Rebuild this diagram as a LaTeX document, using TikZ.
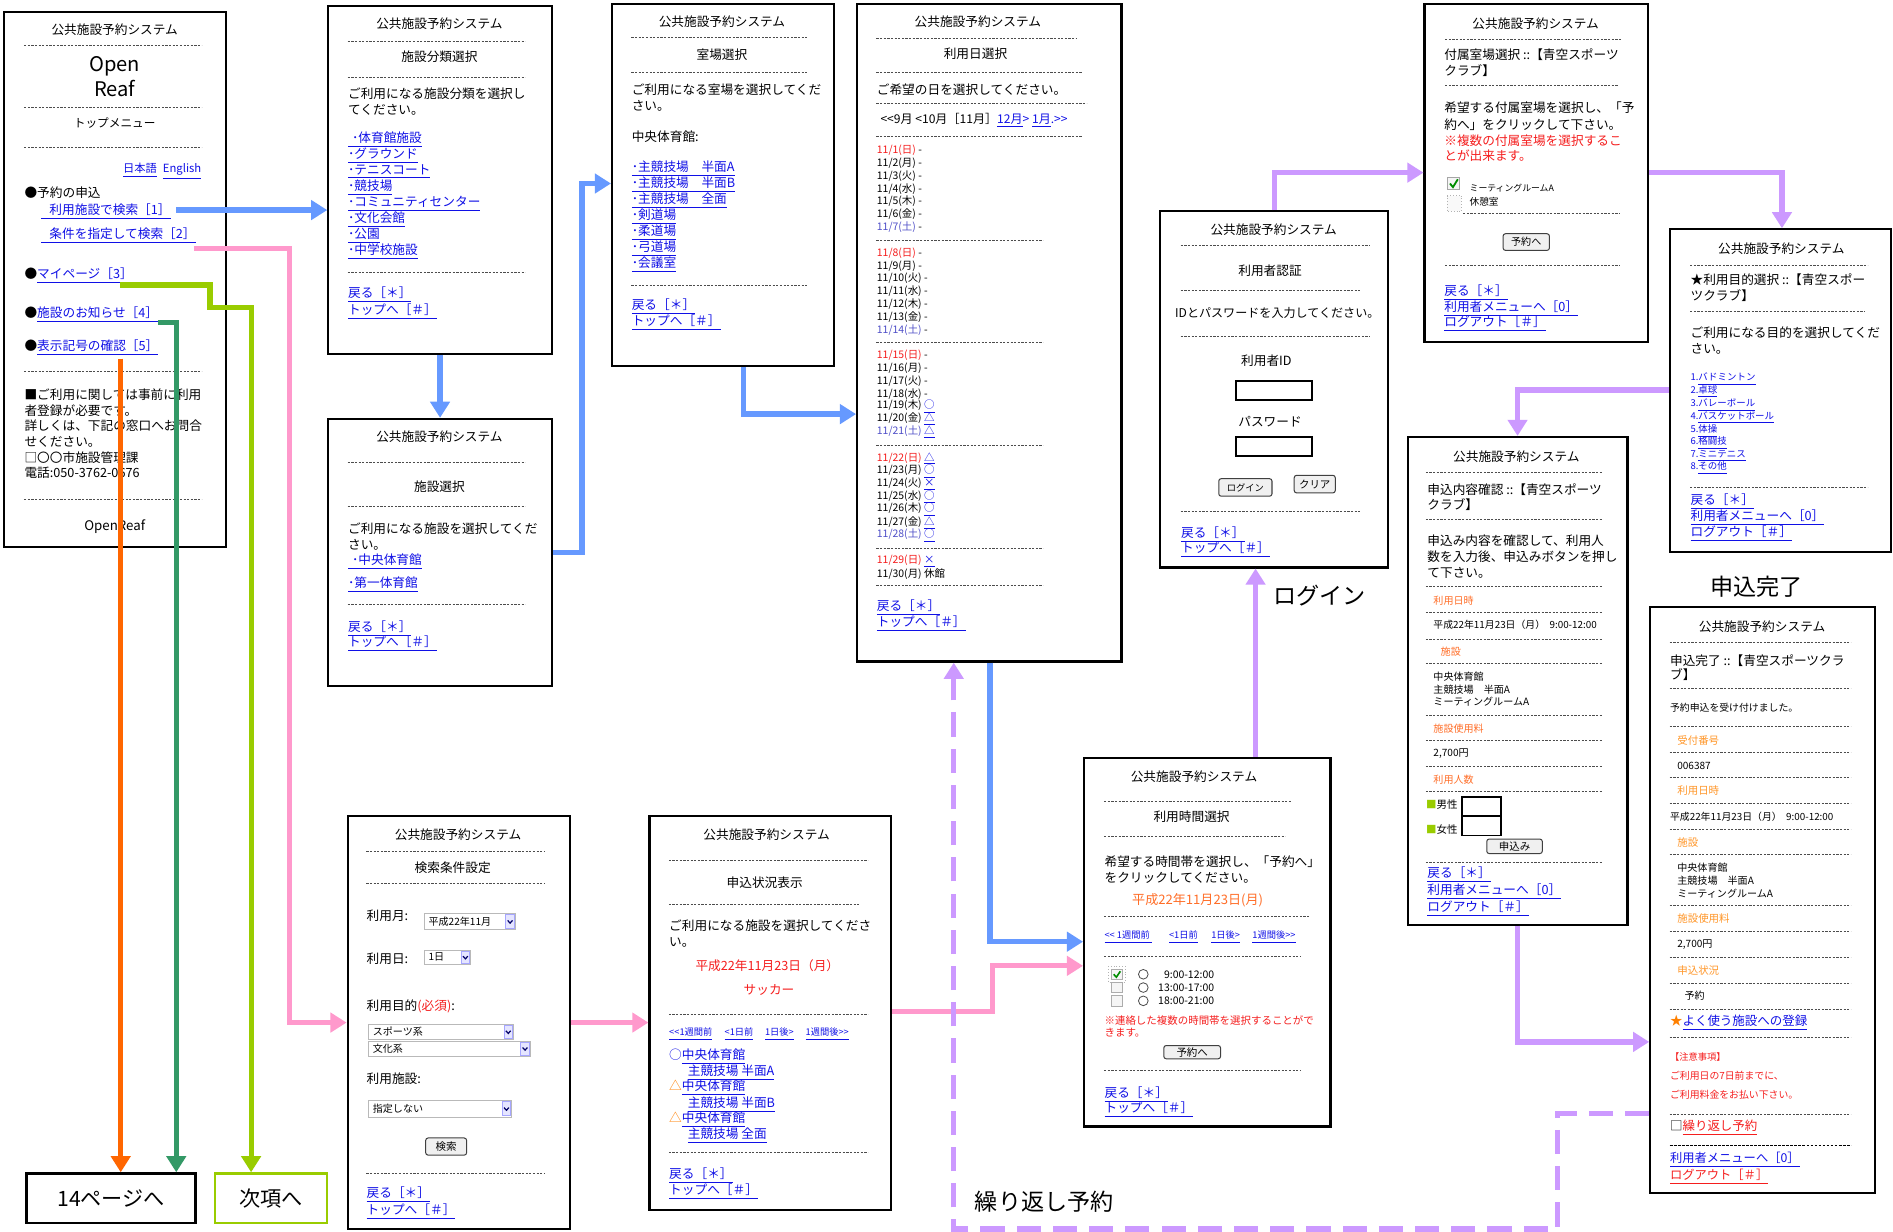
\documentclass[tikz,border=0pt]{standalone}
\usepackage{fontspec}
\setmainfont{Noto Sans CJK JP}
\usetikzlibrary{arrows.meta,fit}
\definecolor{lb}{RGB}{16,16,230}
\definecolor{dred}{RGB}{245,30,30}
\definecolor{orng}{RGB}{255,110,40}
\definecolor{lorng}{RGB}{255,150,40}
\definecolor{sat}{RGB}{80,80,200}
\definecolor{ablue}{RGB}{102,153,255}
\definecolor{apink}{RGB}{255,153,204}
\definecolor{agreen}{RGB}{153,204,0}
\definecolor{adgreen}{RGB}{51,153,102}
\definecolor{aorange}{RGB}{255,102,0}
\definecolor{apurple}{RGB}{204,153,255}
\newcommand\FS[1]{\fontsize{#1}{#1}\selectfont}
\newcommand\lk[1]{\textcolor{lb}{\underline{#1}}}
\newcommand\rk[1]{\textcolor{dred}{\underline{#1}}}
\newcommand\LL{<\kern0pt<}
\newcommand\GG{>\kern0pt>}
\newcommand\btnbox[6]{\draw[btnl] (#1,#2) rectangle (#3,#4);
  \node[inner sep=0pt,font=\FS{#6}] at ({(#1+#3)/2},{(#2+#4)/2}) {#5};}
\newcommand\ddbox[5]{\draw[gray!55,fill=white,line width=0.5pt] (#1,#2) rectangle (#3,#4);
  \draw[blue!35,fill=blue!10,line width=0.4pt] ({#3-8},{#2+1}) rectangle ({#3-1},{#4-1});
  \draw[blue!40!black,line width=0.6pt] ({#3-6.5},{(#2+#4)/2-1}) -- ({#3-4.5},{(#2+#4)/2+1.2}) -- ({#3-2.5},{(#2+#4)/2-1});
  \node[t,font=\FS{5}] at ({#1+3},{(#2+#4)/2}) {#5};}
\tikzset{
  x=0.6pt,y=-0.6pt,
  screen/.style={draw=black,line width=1.1pt,fill=white,inner sep=0pt},
  t/.style={anchor=west,inner sep=0pt,font=\FS{6.3}},
  tc/.style={anchor=center,inner sep=0pt,font=\FS{6.3}},
  sepl/.style={line width=0.4pt,gray!60!black,dash pattern=on 1.1pt off 0.7pt},
  btnl/.style={draw=gray!50!black,fill=gray!12,rounded corners=1.2pt,line width=0.5pt},
  inbox/.style={draw=black,line width=0.9pt,fill=white},
  arr/.style={line width=2.6pt,-{Triangle[length=8pt,width=9.5pt]}},
  labbox/.style={draw,line width=1.2pt,inner sep=0pt,font=\FS{10.5},minimum height=24.6pt},
  biglab/.style={inner sep=0pt,font=\FS{11.5}}
}
\begin{document}
\begin{tikzpicture}
\fill[white] (0,0) rectangle (1568,1020);
\useasboundingbox (0,0) rectangle (1568,1020);

% ---------- Screen A : top menu
\node[screen,fit={(3,10) (187,453)}] (sA) {};
\node[tc] (aT) at (95,25) {公共施設予約システム};
\draw[sepl] (20,38)--(167,38);
\node[tc,font=\FS{10}] (aO) at (95,55) {Open};
\node[tc,font=\FS{10}] (aR) at (95,73) {Reaf};
\draw[sepl] (20,89)--(167,89);
\node[tc,font=\FS{5.8}] (aM) at (95,102) {トップメニュー};
\draw[sepl] (20,122)--(167,122);
\node[anchor=east,inner sep=0pt,font=\FS{5.6}] (aL) at (167,142) {\lk{日本語}\hspace{3pt}\lk{English}};
\node[t] (a0) at (20,160) {●予約の申込};
\node[t] (a1) at (34,175) {\lk{\hspace{4pt}利用施設で検索［1］}};
\node[t] (a2) at (34,195) {\lk{\hspace{4pt}条件を指定して検索［2］}};
\node[t] (a3) at (20,228) {●\lk{マイページ［3］}};
\node[t] (a4) at (20,261) {●\lk{施設のお知らせ［4］}};
\node[t] (a5) at (20,288) {●\lk{表示記号の確認［5］}};
\draw[sepl] (20,308)--(167,308);
\node[t] (a6) at (20,327) {■ご利用に関しては事前に利用};
\node[t] (a7) at (20,340) {者登録が必要です。};
\node[t] (a8) at (20,353) {詳しくは、下記の窓口へお問合};
\node[t] (a9) at (20,366) {せください。};
\node[t] (a10) at (20,379) {□〇〇市施設管理課};
\node[t] (a11) at (20,392) {電話:050-3762-0676};
\draw[sepl] (20,414)--(167,414);
\node[tc,font=\FS{6.6}] (aF) at (95,436) {OpenReaf};

% ---------- Screen B
\node[screen,fit={(272,5) (457,293)}] (sB) {};
\node[tc] (bT) at (364,20) {公共施設予約システム};
\draw[sepl] (288,34)--(435,34);
\node[tc] (bH) at (364,47) {施設分類選択};
\draw[sepl] (288,64)--(435,64);
\node[t] (b1) at (288,78) {ご利用になる施設分類を選択し};
\node[t] (b2) at (288,91) {てください。};
\node[t] (b3) at (288,115.5) {\lk{\hspace{2pt}･体育館施設}};
\node[t] (b4) at (288,128.8) {\lk{･グラウンド}};
\node[t] (b5) at (288,142.1) {\lk{･テニスコート}};
\node[t] (b6) at (288,155.4) {\lk{･競技場}};
\node[t] (b7) at (288,168.7) {\lk{･コミュニティセンター}};
\node[t] (b8) at (288,182) {\lk{･文化会館}};
\node[t] (b9) at (288,195.3) {\lk{･公園}};
\node[t] (b10) at (288,208.6) {\lk{･中学校施設}};
\draw[sepl] (288,226)--(435,226);
\node[t] (b11) at (288,244.5) {\lk{戻る［＊］}};
\node[t] (b12) at (288,258.3) {\lk{トップへ［＃］}};

% ---------- Screen C
\node[screen,fit={(272,347) (457,568)}] (sC) {};
\node[tc] (cT) at (364,362) {公共施設予約システム};
\draw[sepl] (288,383)--(435,383);
\node[tc] (cH) at (364,403) {施設選択};
\draw[sepl] (288,419.5)--(435,419.5);
\node[t] (c1) at (288,438) {ご利用になる施設を選択してくだ};
\node[t] (c2) at (288,451.5) {さい。};
\node[t] (c3) at (288,465) {\lk{\hspace{2pt}･中央体育館}};
\node[t] (c4) at (288,484.5) {\lk{･第一体育館}};
\draw[sepl] (288,500.5)--(435,500.5);
\node[t] (c5) at (288,520.5) {\lk{戻る［＊］}};
\node[t] (c6) at (288,533) {\lk{トップへ［＃］}};

% ---------- Screen D
\node[screen,fit={(507,3) (691,303)}] (sD) {};
\node[tc] (dT) at (598,18) {公共施設予約システム};
\draw[sepl] (523,31)--(669,31);
\node[tc] (dH) at (598,45) {室場選択};
\draw[sepl] (523,60.3)--(669,60.3);
\node[t] (d1) at (523,74) {ご利用になる室場を選択してくだ};
\node[t] (d2) at (523,87.8) {さい。};
\node[t] (d3) at (523,113) {中央体育館:};
\node[t] (d4) at (523,140) {\lk{･主競技場　半面A}};
\node[t] (d5) at (523,153.2) {\lk{･主競技場　半面B}};
\node[t] (d6) at (523,166.4) {\lk{･主競技場　全面}};
\node[t] (d7) at (523,179.6) {\lk{･剣道場}};
\node[t] (d8) at (523,192.8) {\lk{･柔道場}};
\node[t] (d9) at (523,206) {\lk{･弓道場}};
\node[t] (d10) at (523,219.2) {\lk{･会議室}};
\draw[sepl] (523,236.6)--(669,236.6);
\node[t] (d11) at (523,253.7) {\lk{戻る［＊］}};
\node[t] (d12) at (523,266.9) {\lk{トップへ［＃］}};

% ---------- Screen E : calendar
\node[screen,fit={(710,3) (929,548)}] (sE) {};
\node[tc] (eT) at (810,17.7) {公共施設予約システム};
\draw[sepl] (726,31.9)--(892,31.9);
\node[tc] (eH) at (808,44.2) {利用日選択};
\draw[sepl] (726,60.2)--(896,60.2);
\node[t] (e1) at (726,74.3) {ご希望の日を選択してください。};
\draw[sepl] (726,86)--(900,86);
\node[t,font=\FS{6}] (e2) at (729,99.8) {\LL 9月 <10月［11月］\lk{12月}\textcolor{lb}{>} \lk{1月}\textcolor{lb}{.\GG}};
\draw[sepl] (726,113.3)--(896,113.3);
\foreach \n/\w/\c/\s/\yy in {
 1/日/dred/-/124.6, 2/月/black/-/135.2, 3/火/black/-/145.8, 4/水/black/-/156.4,
 5/木/black/-/167.0, 6/金/black/-/177.6, 7/土/sat/-/188.2,
 8/日/dred/-/209.6, 9/月/black/-/220.2, 10/火/black/-/230.8, 11/水/black/-/241.4,
 12/木/black/-/252.0, 13/金/black/-/262.6, 14/土/sat/-/273.2,
 15/日/dred/-/294.5, 16/月/black/-/305.1, 17/火/black/-/315.7, 18/水/black/-/326.3,
 19/木/black/{\lk{○}}/336.9, 20/金/black/{\lk{△}}/347.5, 21/土/sat/{\lk{△}}/358.1,
 22/日/dred/{\lk{△}}/380.0, 23/月/black/{\lk{○}}/390.6, 24/火/black/{\lk{×}}/401.2,
 25/水/black/{\lk{○}}/411.8, 26/木/black/{\lk{○}}/422.4, 27/金/black/{\lk{△}}/433.0,
 28/土/sat/{\lk{○}}/443.6,
 29/日/dred/{\lk{×}}/464.6, 30/月/black/休館/475.2}
 \node[t,font=\FS{5.2}] (day\n) at (726,\yy) {\textcolor{\c}{11/\n(\w)} \s};
\foreach \yy in {199,283.5,369,454,485}
 \draw[sepl] (726,\yy)--(864,\yy);
\node[t] (e3) at (726,503) {\lk{戻る［＊］}};
\node[t] (e4) at (726,517) {\lk{トップへ［＃］}};

% ---------- Screen F : login
\node[screen,fit={(961,175) (1150,470)}] (sF) {};
\node[tc] (fT) at (1055,190) {公共施設予約システム};
\draw[sepl] (978,203.6)--(1135,203.6);
\node[tc] (fH) at (1052,224) {利用者認証};
\draw[sepl] (978,240.3)--(1127,240.3);
\node[tc,font=\FS{6}] (f1) at (1058,259.6) {IDとパスワードを入力してください。};
\draw[sepl] (978,279)--(1135,279);
\node[tc] (f2) at (1049,299) {利用者ID};
\draw[inbox] (1024,315.5) rectangle (1087,331);
\node[tc] (f3) at (1052,349) {パスワード};
\draw[inbox] (1024,362.3) rectangle (1087,378);
\btnbox{1009.5}{396.5}{1053.6}{411}{ログイン}{4.6}
\btnbox{1072}{393.7}{1106}{408.3}{クリア}{5.2}
\draw[sepl] (978,423.5)--(1127,423.5);
\node[t] (f4) at (978,442.8) {\lk{戻る［＊］}};
\node[t] (f5) at (978,455.2) {\lk{トップへ［＃］}};

% ---------- Screen G
\node[screen,fit={(1180,3) (1365,283)}] (sG) {};
\node[tc] (gT) at (1272,19.5) {公共施設予約システム};
\draw[sepl] (1197,32.5)--(1343,32.5);
\node[t] (g1) at (1196,45) {付属室場選択 ::【青空スポーツ};
\node[t] (g2) at (1196,58.6) {クラブ】};
\draw[sepl] (1197,71)--(1340,71);
\node[t] (g3) at (1196,89.5) {希望する付属室場を選択し、「予};
\node[t] (g4) at (1196,103.3) {約へ」をクリックして下さい。};
\node[t,text=dred] (g5) at (1196,116.5) {※複数の付属室場を選択するこ};
\node[t,text=dred] (g6) at (1196,129) {とが出来ます。};
\draw[gray!70,fill=gray!8,line width=0.4pt] (1199,147) rectangle (1209,157);
\draw[green!55!black,line width=0.9pt] (1201,152) -- (1203.5,155) -- (1207.5,148.5);
\draw[gray!60,fill=gray!5,line width=0.4pt,densely dotted] (1198.5,162) rectangle (1210.5,175);
\node[t,font=\FS{4.4}] (g7) at (1217,155.6) {ミーティングルームA};
\node[t,font=\FS{4.8}] (g8) at (1217,167.5) {休憩室};
\draw[sepl] (1212,177)--(1342,177);
\btnbox{1245}{193.6}{1283.4}{207.4}{予約へ}{5}
\draw[sepl] (1197,219.8)--(1342,219.8);
\node[t] (g9) at (1196,242.7) {\lk{戻る［＊］}};
\node[t] (g10) at (1196,255.6) {\lk{利用者メニューへ［0］}};
\node[t] (g11) at (1196,268) {\lk{ログアウト［＃］}};

% ---------- Screen H
\node[screen,fit={(1383,190) (1566,457)}] (sH) {};
\node[tc] (hT) at (1475.5,206) {公共施設予約システム};
\draw[sepl] (1400,219.8)--(1547,219.8);
\node[t] (h1) at (1400,231.3) {★利用目的選択 ::【青空スポー};
\node[t] (h2) at (1400,245) {ツクラブ】};
\draw[sepl] (1400,257.8)--(1545,257.8);
\node[t] (h3) at (1400,275.4) {ご利用になる目的を選択してくだ};
\node[t] (h4) at (1400,288.6) {さい。};
\foreach \k/\nm/\yy in {1/バドミントン/314, 2/卓球/324.4, 3/バレーボール/335.5, 4/バスケットボール/345.9,
  5/体操/356.9, 6/格闘技/367, 7/ミニテニス/377.5, 8/その他/387.8}
 \node[t,font=\FS{4.7}] (hl\k) at (1400,\yy) {\textcolor{lb}{\k.\underline{\nm}}};
\draw[sepl] (1400,403.8)--(1547,403.8);
\node[t] (h5) at (1400,415.3) {\lk{戻る［＊］}};
\node[t] (h6) at (1400,429) {\lk{利用者メニューへ［0］}};
\node[t] (h7) at (1400,442.3) {\lk{ログアウト［＃］}};

% ---------- Screen I
\node[screen,fit={(1166,362) (1348,766)}] (sI) {};
\node[tc] (iT) at (1256,378.3) {公共施設予約システム};
\foreach \yy in {391.5,430.2,486,507.5,529.3,549.5,592.3,613.5,635,655.8,714.6}
 \draw[sepl] (1181,\yy)--(1327.5,\yy);
\node[t] (i1) at (1182,405.3) {申込内容確認 ::【青空スポーツ};
\node[t] (i2) at (1182,418.3) {クラブ】};
\node[t] (i3) at (1182,448) {申込み内容を確認して、利用人};
\node[t] (i4) at (1182,461.1) {数を入力後、申込みボタンを押し};
\node[t] (i5) at (1182,474.9) {て下さい。};
\node[t,font=\FS{5},text=orng] (i6) at (1187,497.6) {利用日時};
\node[t,font=\FS{4.9}] (i7) at (1187,517.7) {平成22年11月23日（月） \ 9:00-12:00};
\node[t,font=\FS{5},text=orng] (i8) at (1193,539.8) {施設};
\node[t,font=\FS{5}] (i9) at (1187,560.5) {中央体育館};
\node[t,font=\FS{5}] (i10) at (1187,571) {主競技場　半面A};
\node[t,font=\FS{5}] (i11) at (1187,581.2) {ミーティングルームA};
\node[t,font=\FS{5},text=orng] (i12) at (1187,603.3) {施設使用料};
\node[t,font=\FS{5}] (i13) at (1187,624) {2,700円};
\node[t,font=\FS{5},text=orng] (i14) at (1187,646) {利用人数};
\node[t,font=\FS{5.2}] (i15) at (1181,666.8) {\textcolor{agreen}{■}男性};
\node[t,font=\FS{5.2}] (i16) at (1181,687.5) {\textcolor{agreen}{■}女性};
\draw[inbox] (1211,660) rectangle (1243,676);
\draw[inbox] (1211,676) rectangle (1243,692);
\btnbox{1231.5}{695}{1277.5}{707}{申込み}{5.2}
\node[t] (i17) at (1182,724.8) {\lk{戻る［＊］}};
\node[t] (i18) at (1182,738.6) {\lk{利用者メニューへ［0］}};
\node[t] (i19) at (1182,752.4) {\lk{ログアウト［＃］}};

% ---------- Screen J
\node[screen,fit={(1367,503) (1553,988)}] (sJ) {};
\node[tc] (jT) at (1459.5,518.7) {公共施設予約システム};
\foreach \yy in {532,570.5,602,623,644,665.7,687.4,708,750,771.5,793,814.3,836,859.4,922.8}
 \draw[sepl] (1383,\yy)--(1533,\yy);
\draw[line width=0.6pt,black,dash pattern=on 1.4pt off 0.6pt] (1383,948.6)--(1533,948.6);
\node[t] (j1) at (1383,547) {申込完了 ::【青空スポーツクラ};
\node[t] (j2) at (1383,558.8) {ブ】};
\node[t,font=\FS{4.9}] (j3) at (1383,586.5) {予約申込を受け付けました。};
\node[t,font=\FS{5.2},text=lorng] (j4) at (1389,613) {受付番号};
\node[t,font=\FS{5}] (j5) at (1389,634) {006387};
\node[t,font=\FS{5.2},text=lorng] (j6) at (1389,654.6) {利用日時};
\node[t,font=\FS{4.9}] (j7) at (1383,676.7) {平成22年11月23日（月） \ 9:00-12:00};
\node[t,font=\FS{5.2},text=lorng] (j8) at (1389,698) {施設};
\node[t,font=\FS{5}] (j9) at (1389,718.4) {中央体育館};
\node[t,font=\FS{5}] (j10) at (1389,729.8) {主競技場　半面A};
\node[t,font=\FS{5}] (j11) at (1389,740) {ミーティングルームA};
\node[t,font=\FS{5.2},text=lorng] (j12) at (1389,761) {施設使用料};
\node[t,font=\FS{5}] (j13) at (1389,782.6) {2,700円};
\node[t,font=\FS{5.2},text=lorng] (j14) at (1389,803.6) {申込状況};
\node[t,font=\FS{5}] (j15) at (1395,825) {予約};
\node[t,font=\FS{6.2}] (j16) at (1383,847) {\textcolor{orange}{★}\lk{よく使う施設への登録}};
\node[t,font=\FS{4.6},text=dred] (j17) at (1383,875.4) {【注意事項】};
\node[t,font=\FS{4.9},text=dred] (j18) at (1383,891) {ご利用日の7日前までに、};
\node[t,font=\FS{4.9},text=dred] (j19) at (1383,907) {ご利用料金をお払い下さい。};
\node[t,font=\FS{6.2}] (j20) at (1383,934.5) {□\rk{繰り返し予約}};
\node[t,font=\FS{6.1}] (j21) at (1383,960.6) {\lk{利用者メニューへ［0］}};
\node[t,font=\FS{6.1}] (j22) at (1383,974.6) {\rk{ログアウト［＃］}};

% ---------- Screen K : time selection
\node[screen,fit={(898,628) (1102,933)}] (sK) {};
\node[tc] (kT) at (989,643.5) {公共施設予約システム};
\draw[sepl] (914.6,663.4)--(1070,663.4);
\node[tc] (kH) at (987,676.6) {利用時間選択};
\draw[sepl] (914.6,692.4)--(1064.6,692.4);
\node[t] (k1) at (914.6,713.6) {希望する時間帯を選択し、「予約へ」};
\node[t] (k2) at (914.6,727) {をクリックしてください。};
\node[tc,font=\FS{6.5},text=orng] (k3) at (992,745.7) {平成22年11月23日(月)};
\draw[sepl] (914.6,758.7)--(1085,758.7);
\node[t,font=\FS{4.6}] (k4) at (914.6,776) {\lk{\LL\ 1週間前 }};
\node[t,font=\FS{4.6}] (k5) at (968,776) {\lk{<1日前}};
\node[t,font=\FS{4.6}] (k6) at (1003,776) {\lk{1日後>}};
\node[t,font=\FS{4.6}] (k7) at (1037,776) {\lk{1週間後\GG}};
\draw[sepl] (914.6,791.8)--(1078,791.8);
\draw[gray!60,densely dotted,line width=0.4pt] (918,800.5) rectangle (932,813.5);
\foreach \yy in {807,818,829}{
  \draw[gray!65,fill=gray!8,line width=0.4pt] (920.5,{\yy-4.3}) rectangle (929.5,{\yy+4.3});
  \draw[gray!60!black,line width=0.4pt] (947,\yy) circle[radius=2.4pt];}
\draw[green!55!black,line width=0.8pt] (922.5,807) -- (924.7,809.4) -- (928,804.5);
\node[anchor=east,inner sep=0pt,font=\FS{5.2}] (k8) at (1006,807) {9:00-12:00};
\node[anchor=east,inner sep=0pt,font=\FS{5.2}] (k9) at (1006,818) {13:00-17:00};
\node[anchor=east,inner sep=0pt,font=\FS{5.2}] (k10) at (1006,829) {18:00-21:00};
\node[t,font=\FS{5.2},text=dred] (k11) at (914.6,845.7) {※連絡した複数の時間帯を選択することがで};
\node[t,font=\FS{5.2},text=dred] (k12) at (914.6,855.3) {きます。};
\btnbox{964}{866}{1011}{877}{予約へ}{5.2}
\draw[sepl] (914.6,886.6)--(1078,886.6);
\node[t] (k13) at (914.6,906.4) {\lk{戻る［＊］}};
\node[t] (k14) at (914.6,919) {\lk{トップへ［＃］}};

% ---------- Screen L : search conditions
\node[screen,fit={(288,676) (472,1018)}] (sL) {};
\node[tc] (lT) at (379.4,691.6) {公共施設予約システム};
\draw[sepl] (303.4,705.3)--(451.7,705.3);
\node[tc] (lH) at (375,718.5) {検索条件設定};
\draw[sepl] (303.4,731.6)--(451.7,731.6);
\node[t] (l1) at (303.4,758.2) {利用月:};
\ddbox{351.7}{756.8}{427}{770}{平成22年11月}
\node[t] (l2) at (303.4,793.8) {利用日:};
\ddbox{351.7}{787}{390}{799}{1日}
\node[t] (l3) at (303.4,833.5) {利用目的\textcolor{dred}{(必須)}:};
\ddbox{305.5}{848.6}{425.5}{861}{スポーツ系}
\ddbox{305.5}{862.3}{439.4}{875}{文化系}
\node[t] (l4) at (303.4,893.8) {利用施設:};
\ddbox{305.5}{911.6}{424}{925.3}{指定しない}
\btnbox{352.6}{942.6}{386.5}{956.8}{検索}{5.2}
\draw[sepl] (303.4,972)--(451,972);
\node[t] (l5) at (303.4,989.7) {\lk{戻る［＊］}};
\node[t] (l6) at (303.4,1003.4) {\lk{トップへ［＃］}};

% ---------- Screen M : status
\node[screen,fit={(538,676) (738,1002)}] (sM) {};
\node[tc] (mT) at (635,691.7) {公共施設予約システム};
\draw[sepl] (554,712.5)--(719,712.5);
\node[tc] (mH) at (633.4,731) {申込状況表示};
\draw[sepl] (554,748.8)--(712,748.8);
\node[t] (m1) at (554,766.7) {ご利用になる施設を選択してくださ};
\node[t] (m2) at (554,780.4) {い。};
\node[tc,text=dred] (m3) at (635.6,799.6) {平成22年11月23日（月）};
\node[tc,text=dred] (m4) at (637,819.7) {サッカー};
\draw[sepl] (554,840)--(719,840);
\node[t,font=\FS{4.6}] (m5) at (554,856.8) {\lk{\LL 1週間前}};
\node[t,font=\FS{4.6}] (m6) at (599.9,856.8) {\lk{<1日前}};
\node[t,font=\FS{4.6}] (m7) at (633.4,856.8) {\lk{1日後>}};
\node[t,font=\FS{4.6}] (m8) at (667,856.8) {\lk{1週間後\GG}};
\node[t] (m9) at (554,875.2) {\textcolor{lb}{○}\lk{中央体育館}};
\node[t] (m10) at (569.4,888.9) {\lk{主競技場 半面A}};
\node[t] (m11) at (554,901.3) {\textcolor{orange}{△}\lk{中央体育館}};
\node[t] (m12) at (569.4,915) {\lk{主競技場 半面B}};
\node[t] (m13) at (554,927.4) {\textcolor{orange}{△}\lk{中央体育館}};
\node[t] (m14) at (569.4,941.1) {\lk{主競技場 全面}};
\draw[sepl] (554,954.8)--(719,954.8);
\node[t] (m15) at (554,974) {\lk{戻る［＊］}};
\node[t] (m16) at (554,987.3) {\lk{トップへ［＃］}};

% ---------- Labels
\node[labbox,minimum width=84pt] (n1) at (92,992.5) {14ページへ};
\node[labbox,draw=agreen,minimum width=55.8pt] (n2) at (224.5,992.5) {次項へ};
\node[biglab] (lblRep) at (865,995) {繰り返し予約};
\node[biglab] (lblLogin) at (1093,493) {ログイン};
\node[biglab] (lblDone) at (1455,486) {申込完了};

% ---------- connector start points
\coordinate (pA1) at (146,174);
\coordinate (pA2) at (161,206);
\coordinate (pA3) at (99,236);
\coordinate (pA4) at (131,267);
\coordinate (pA5) at (100,297);

% ---------- Blue arrows
\draw[arr,ablue] (pA1) -- (pA1 -| sB.west);
\draw[arr,ablue] (sB.south) -- (sC.north);
\draw[arr,ablue] (sC.east) -| (482,152) -- (sD.west |- 482,152);
\draw[arr,ablue] (sD.south -| 616,0) |- (sE.west |- 0,343);
\draw[arr,ablue] (sE.south -| 820,0) |- (sK.west |- 0,780);

% ---------- Pink arrows
\draw[arr,apink] (pA2) -| (sL.west -| 240,0) -- (sL.west);
\draw[arr,apink] (sL.east) -- (sL.east -| sM.west);
\draw[arr,apink] (sM.east |- 0,838) -| (822,800) -- (sK.west |- 0,800);

% ---------- Green / orange arrows
\draw[arr,agreen] (pA3) -| (174,255) -| (n2.north -| 208,0);
\draw[arr,adgreen] (pA4) -| (n1.north -| 146,0);
\draw[arr,aorange] (pA5) -- (n1.north -| pA5);

% ---------- Purple arrows
\draw[arr,apurple] (sK.north -| 1040,0) -- (sF.south -| 1040,0);
\draw[arr,apurple] (sF.north) |- (sG.west |- 0,143);
\draw[arr,apurple] (sG.east |- 0,143) -| (sH.north -| 1476,0);
\draw[arr,apurple] (sH.west |- 0,323) -| (sI.north -| 1257,0);
\draw[arr,apurple] (sI.south -| 1257,0) |- (sJ.west |- 0,863);
\draw[arr,apurple,dash pattern=on 12pt off 6pt] (sJ.west |- 0,922) -| (1290,1018) -| (sE.south -| 790,0);
\end{tikzpicture}
\end{document}
